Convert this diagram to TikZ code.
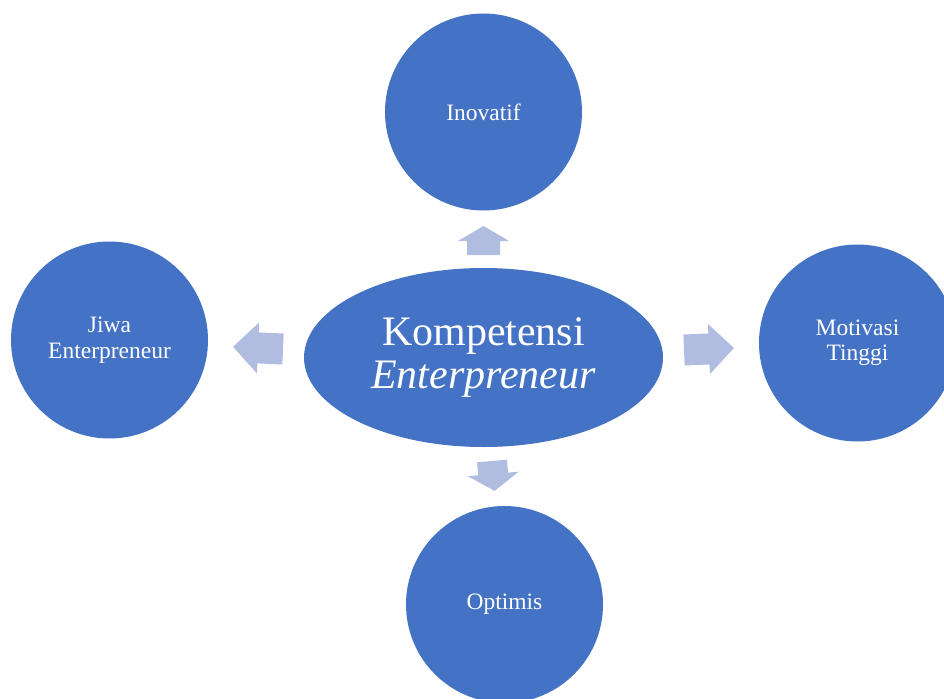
\documentclass[tikz,border=0pt]{standalone}
\usepackage{fontspec}
\setmainfont{Liberation Serif}
\usepackage{tikz}
\usetikzlibrary{shapes.geometric}

\definecolor{circleblue}{RGB}{68,114,196}
\definecolor{arrowblue}{RGB}{176,189,225}

\tikzset{
    bubble/.style={circle, fill=circleblue, minimum size=197pt, inner sep=0pt,
        text=white, align=center, font=\fontsize{23.5}{25.5}\selectfont},
    core/.style={ellipse, fill=circleblue, minimum width=359pt, minimum height=179pt,
        inner sep=0pt, text=white, align=center, font=\fontsize{42}{43}\selectfont},
    fatarrow/.style={fill=arrowblue}
}

% block arrow: tail centre, angle, length, head length, shaft width, head width
\newcommand{\blockarrow}[6]{%
    \fill[fatarrow, shift={#1}, rotate=#2]
        (0,-#5/2) -- (#4,-#5/2) -- (#4,-#6/2) -- (#3,0)
        -- (#4,#6/2) -- (#4,#5/2) -- (0,#5/2) -- cycle;
}

\begin{document}
\begin{tikzpicture}[x=1pt, y=-1pt]
    \useasboundingbox (0,0) rectangle (944,698);
    \clip (0,0) rectangle (944,698);

    \node[core] (kompetensi) at (483.5,357.5) {Kompetensi\\\textit{Enterpreneur}};

    \node[bubble] (inovatif) at (483.5,112) {Inovatif};
    \node[bubble] (jiwa) at (109.5,340) {Jiwa\\Enterpreneur};
    \node[bubble] (motivasi) at (857.5,343) {Motivasi\\Tinggi};
    \node[bubble] (optimis) at (504.5,604.5) {Optimis};

    % arrows
    \blockarrow{(483.5,255)}{90}{29}{14}{33}{51}
    \blockarrow{(283,349)}{177.5}{50}{25}{31}{51}
    \blockarrow{(684,350)}{2.3}{50}{25}{31}{50}
    \blockarrow{(492,461)}{-85}{30}{13}{30}{51}

\end{tikzpicture}
\end{document}
